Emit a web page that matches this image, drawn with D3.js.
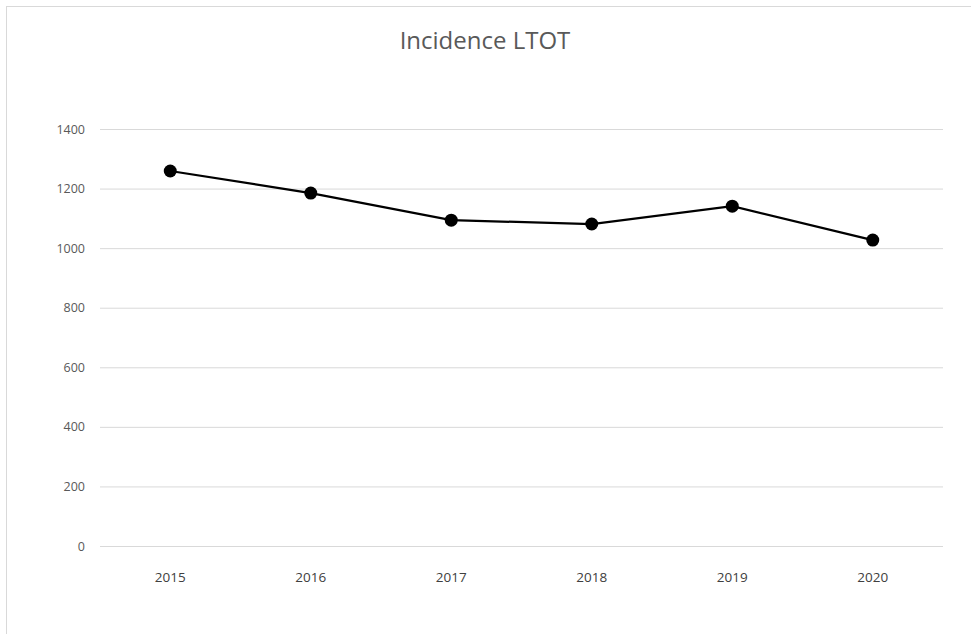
<!DOCTYPE html>
<html>
<head>
<meta charset="utf-8">
<script src="https://cdn.jsdelivr.net/npm/d3@7"></script>
<style>
body { margin: 0; background: #fff; }
svg { display: block; font-family: "Open Sans", "Noto Sans", sans-serif; }
</style>
</head>
<body>
<div id="chart"></div>
<script>
// donnees du graphique
const years = ["2015", "2016", "2017", "2018", "2019", "2020"]
const incidence = [1259, 1185, 1094, 1081, 1141, 1027]
const yTicks = [0, 200, 400, 600, 800, 1000, 1200, 1400]
const title = "Incidence LTOT"

const width = 971
const height = 634
const margin = { top: 129, right: 28, bottom: 88, left: 100 }

const svg = d3.select('#chart')
  .append('svg')
  .attr('width', width)
  .attr('height', height)

// cadre du graphique
svg.append('rect')
  .attr('x', 6.5).attr('y', 6.5)
  .attr('width', width + 10).attr('height', height + 10)
  .attr('fill', 'none')
  .attr('stroke', '#d9d9d9')

svg.append('text')
  .attr('x', 485)
  .attr('y', 49)
  .attr('text-anchor', 'middle')
  .attr('font-size', '24px')
  .attr('fill', '#595959')
  .text(title)

const x = d3.scaleBand()
  .domain(years)
  .range([margin.left, width - margin.right])

const y = d3.scaleLinear()
  .domain([0, 1400])
  .range([height - margin.bottom, margin.top])

// grille horizontale
const yAxis = svg.append('g')
  .attr('transform', `translate(${margin.left},0)`)
  .call(d3.axisLeft(y).tickValues(yTicks).tickFormat(d3.format('d'))
    .tickSize(-(width - margin.right - margin.left)).tickPadding(15))
yAxis.attr('font-family', null)
yAxis.select('.domain').remove()
yAxis.selectAll('line').attr('stroke', '#d9d9d9').attr('stroke-width', 1)
yAxis.selectAll('text').attr('font-size', '12.5px').attr('fill', '#595959')

const xAxis = svg.append('g')
  .attr('transform', `translate(0,${height - margin.bottom})`)
  .call(d3.axisBottom(x).tickSize(0).tickPadding(26))
xAxis.attr('font-family', null)
xAxis.select('.domain').remove()
xAxis.selectAll('text').attr('font-size', '13.5px').attr('fill', '#404040')

const line = d3.line()
  .x((d, i) => x(years[i]) + x.bandwidth() / 2)
  .y(d => y(d))

svg.append('path')
  .datum(incidence)
  .attr('d', line)
  .attr('fill', 'none')
  .attr('stroke', '#000')
  .attr('stroke-width', 2.25)

svg.selectAll('circle')
  .data(incidence)
  .enter()
  .append('circle')
  .attr('cx', (d, i) => x(years[i]) + x.bandwidth() / 2)
  .attr('cy', d => y(d))
  .attr('r', 6.5)
  .attr('fill', '#000')
</script>
</body>
</html>
